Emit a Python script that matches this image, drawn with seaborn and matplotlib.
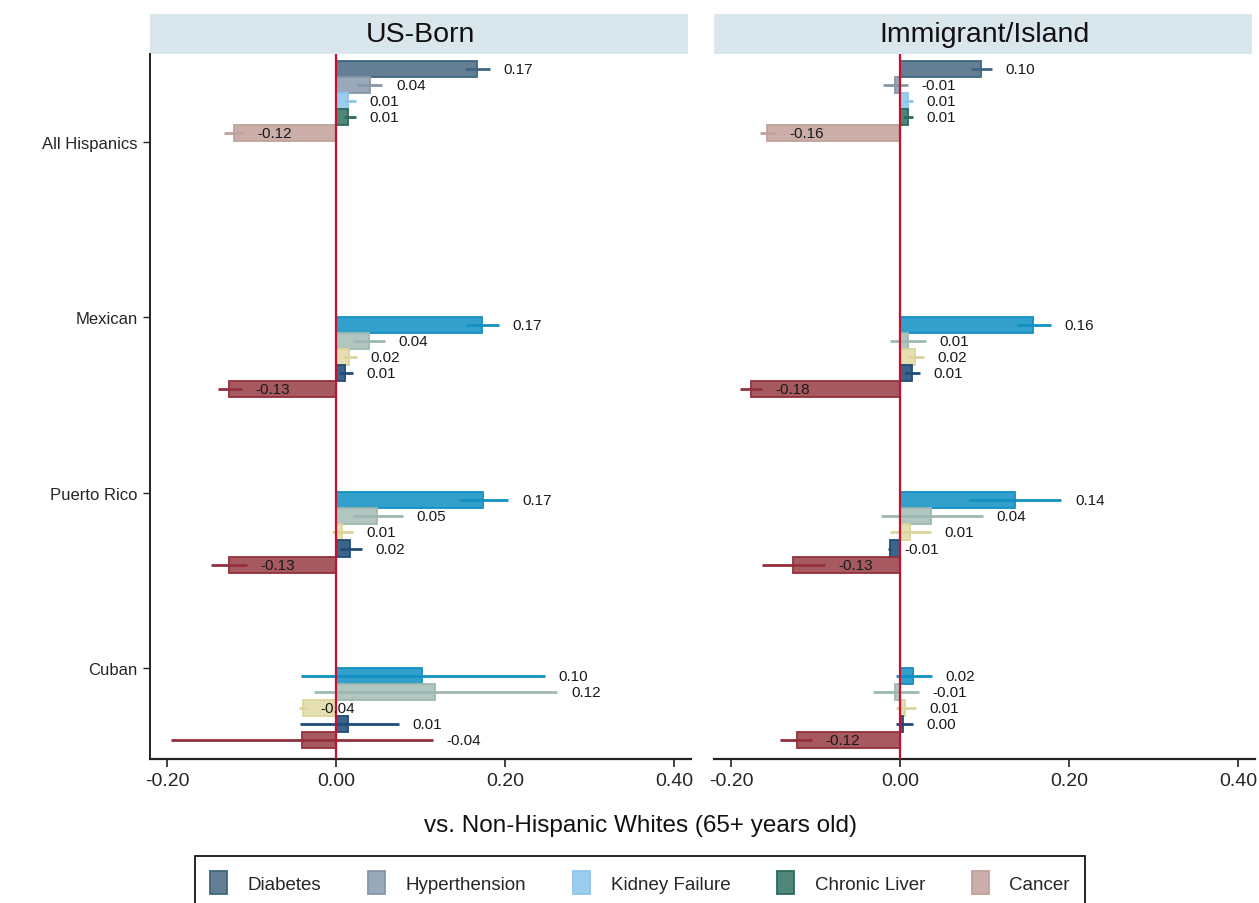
import numpy as np
import pandas as pd
import matplotlib
matplotlib.use("Agg")
import matplotlib.pyplot as plt
from matplotlib.patches import Patch, Rectangle
import seaborn as sns

groups = ["All Hispanics", "Mexican", "Puerto Rico", "Cuban"]
diseases = ["Diabetes", "Hyperthension", "Kidney Failure", "Chronic Liver", "Cancer"]
panels = ["US-Born", "Immigrant/Island"]

# estimates: rows = groups, cols = diseases
us_est = [[0.167, 0.040, 0.014, 0.014, -0.121],
          [0.173, 0.039, 0.016, 0.011, -0.126],
          [0.174, 0.048, 0.007, 0.017, -0.126],
          [0.102, 0.117, -0.039, 0.014, -0.040]]
us_lo = [[0.153, 0.025, 0.010, 0.010, -0.133],
         [0.154, 0.020, 0.008, 0.004, -0.139],
         [0.145, 0.020, -0.005, 0.005, -0.148],
         [-0.041, -0.026, -0.044, -0.042, -0.195]]
us_hi = [[0.182, 0.055, 0.024, 0.024, -0.109],
         [0.193, 0.058, 0.025, 0.020, -0.111],
         [0.204, 0.079, 0.020, 0.031, -0.105],
         [0.247, 0.262, -0.034, 0.074, 0.115]]

imm_est = [[0.096, -0.006, 0.009, 0.009, -0.157],
           [0.157, 0.010, 0.018, 0.014, -0.176],
           [0.136, 0.037, 0.012, -0.012, -0.126],
           [0.016, -0.006, 0.006, 0.004, -0.122]]
imm_lo = [[0.084, -0.020, 0.003, 0.003, -0.166],
          [0.138, -0.012, 0.008, 0.006, -0.189],
          [0.082, -0.022, -0.012, -0.014, -0.163],
          [-0.005, -0.032, -0.005, -0.005, -0.142]]
imm_hi = [[0.109, 0.009, 0.015, 0.015, -0.147],
          [0.179, 0.031, 0.028, 0.024, -0.163],
          [0.191, 0.098, 0.037, -0.011, -0.089],
          [0.038, 0.022, 0.019, 0.015, -0.104]]

# colours: first group uses its own palette, the subgroups share another
fill_all = ["#647f93", "#9aa9b9", "#9dcdee", "#4f877a", "#cbaea9"]
edge_all = ["#3d6680", "#8697aa", "#8cc5ec", "#2e6a5c", "#c0a29c"]
fill_sub = ["#33a0cb", "#b1c6c1", "#e5dfb1", "#3c6389", "#a65a60"]
edge_sub = ["#1390c3", "#9db9b1", "#dcd49c", "#204d78", "#93303b"]

sns.set_style("white")
plt.rcParams["font.family"] = ["Liberation Sans", "DejaVu Sans"]

W, H = 1259, 904
fig = plt.figure(figsize=(W / 100, H / 100), dpi=100)
axes = [fig.add_axes([150 / W, 144 / H, 541 / W, 705 / H]),
        fig.add_axes([714 / W, 144 / H, 541 / W, 705 / H])]

group_shift = [-0.416, 0.043, 0.043, 0.043]
bar_step = 0.0912

panel_data = [(us_est, us_lo, us_hi), (imm_est, imm_lo, imm_hi)]

for k, ax in enumerate(axes):
    est, lo, hi = panel_data[k]
    rows = []
    for gi in range(len(groups)):
        fills = fill_all if gi == 0 else fill_sub
        edges = edge_all if gi == 0 else edge_sub
        for di in range(len(diseases)):
            rows.append({
                "pos": gi + group_shift[gi] + di * bar_step,
                "est": est[gi][di], "lo": lo[gi][di], "hi": hi[gi][di],
                "key": f"{gi}-{di}", "fill": fills[di], "edge": edges[di],
            })
    df = pd.DataFrame(rows)

    sns.barplot(data=df, x="est", y="pos", hue="key",
                palette=dict(zip(df["key"], df["fill"])),
                orient="y", native_scale=True, dodge=False, width=1.0,
                errorbar=None, legend=False, saturation=1, linewidth=1.3, ax=ax)

    # per-bar edge colour
    for p in ax.patches:
        yc = p.get_y() + p.get_height() / 2
        idx = int(np.argmin(np.abs(df["pos"].values - yc)))
        p.set_edgecolor(df["edge"].iloc[idx])

    ax.hlines(df["pos"], df["lo"], df["hi"], colors=df["edge"], lw=2, zorder=3)
    ax.axvline(0, color="#c8102e", lw=1.6, zorder=4)

    for _, r in df.iterrows():
        ax.text(r["hi"] + 0.016, r["pos"], f"{r['est']:.2f}", va="center", ha="left",
                fontsize=11, color="#1a1a1a", zorder=5)

    ax.set_xlim(-0.22, 0.42)
    ax.set_ylim(3.516, -0.501)
    ax.set_xticks([-0.2, 0.0, 0.2, 0.4])
    ax.set_xticklabels([f"{t:.2f}" for t in [-0.2, 0.0, 0.2, 0.4]])
    ax.set_xlabel("")
    ax.set_ylabel("")
    ax.grid(False)
    ax.tick_params(axis="x", labelsize=14, length=6, width=1.2, direction="out",
                   bottom=True, color="#222222")

    for s in ["top", "right"]:
        ax.spines[s].set_visible(False)
    ax.spines["bottom"].set_color("#222222")
    ax.spines["bottom"].set_linewidth(1.6)
    if k == 0:
        ax.set_yticks(range(len(groups)))
        ax.set_yticklabels(groups)
        ax.tick_params(axis="y", labelsize=12, length=5, width=1, direction="out",
                       left=True, color="#222222", pad=4)
        ax.spines["left"].set_color("#222222")
        ax.spines["left"].set_linewidth(1.4)
    else:
        ax.set_yticks([])
        ax.spines["left"].set_visible(False)

    # facet strip
    ax.add_patch(Rectangle((0, 1.0), 0.995, 40 / 705, transform=ax.transAxes,
                           clip_on=False, facecolor="#d9e6eb", edgecolor="none"))
    ax.text(0.5, 1.0 + 20 / 705, panels[k], transform=ax.transAxes,
            ha="center", va="center", fontsize=20.5, color="#111111")

fig.text(640 / W, 1 - 826 / H, "vs. Non-Hispanic Whites (65+ years old)",
         ha="center", va="center", fontsize=17.5, color="#111111")

handles = [Patch(facecolor=f, edgecolor=e, linewidth=1.3, label=d)
           for f, e, d in zip(fill_all, edge_all, diseases)]
leg = fig.legend(handles=handles, loc="upper center",
                 bbox_to_anchor=(640 / W, 1 - 848 / H), ncol=5, fontsize=13.5,
                 handlelength=0.9, handleheight=1.5, handletextpad=1.1,
                 columnspacing=2.5, borderpad=0.8, frameon=True, fancybox=False,
                 edgecolor="black", framealpha=1)
leg.get_frame().set_linewidth(1.2)

fig.savefig("out.png", dpi=100)
